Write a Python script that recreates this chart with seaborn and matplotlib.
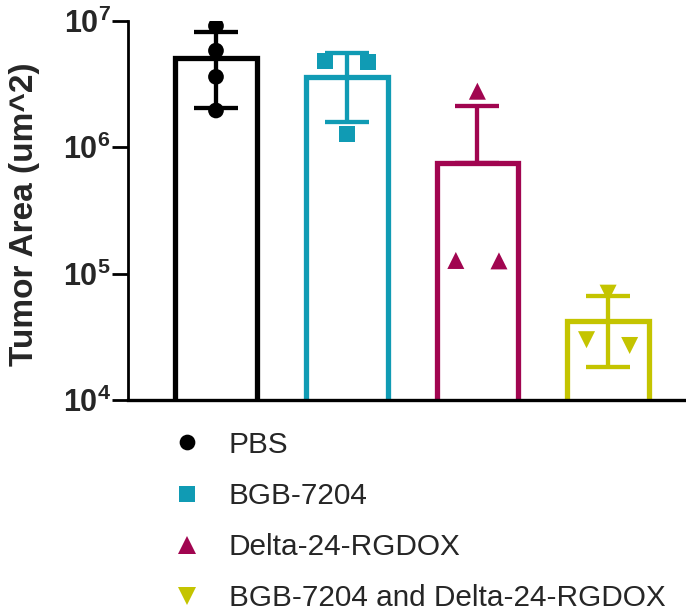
import numpy as np
import pandas as pd
import matplotlib
matplotlib.use("Agg")
import matplotlib.pyplot as plt
from matplotlib.lines import Line2D
import seaborn as sns

# ---- data -------------------------------------------------------------
groups = ["PBS", "BGB-7204", "Delta-24-RGDOX", "BGB-7204 and Delta-24-RGDOX"]
pbs = [9.1e6, 5.8e6, 3.6e6, 1.95e6]
bgb = [4.8e6, 4.7e6, 1.28e6]
rgdox = [2.77e6, 1.27e5, 1.26e5, 0.0]   # one animal without measurable tumor
combo = [7.0e4, 3.0e4, 2.7e4]
colors = ["#000000", "#109BB4", "#A10550", "#C4C400"]
markers = ["o", "s", "^", "v"]
marker_sizes = [128, 130, 150, 150]
ytick_values = [1e4, 1e5, 1e6, 1e7]
ytick_labels = [r"$\mathbf{10^{4}}$", r"$\mathbf{10^{5}}$",
                r"$\mathbf{10^{6}}$", r"$\mathbf{10^{7}}$"]
ylabel = "Tumor Area (um^2)"

# ---- style ------------------------------------------------------------
sns.set_style("ticks")
plt.rcParams["font.family"] = ["Liberation Sans", "DejaVu Sans"]
plt.rcParams["mathtext.fontset"] = "custom"
plt.rcParams["mathtext.rm"] = "Liberation Sans"
plt.rcParams["mathtext.bf"] = "Liberation Sans:bold"

series = [pbs, bgb, rgdox, combo]
long = pd.DataFrame({
    "group": np.repeat(groups, [len(s) for s in series]),
    "value": np.concatenate(series),
})
summary = long.groupby("group", sort=False)["value"].agg(["mean", "std"]).reset_index()

# horizontal spread for points with near-equal values (in log decades)
def spread(values, tol=0.12, step=0.33):
    vals = np.asarray(values, float)
    offs = np.zeros(len(vals))
    pos = vals > 0
    order = np.argsort(-vals)
    order = [i for i in order if pos[i]]
    clusters, cur = [], [order[0]]
    for i in order[1:]:
        if abs(np.log10(vals[cur[-1]]) - np.log10(vals[i])) < tol:
            cur.append(i)
        else:
            clusters.append(cur)
            cur = [i]
    clusters.append(cur)
    for c in clusters:
        n = len(c)
        for k, i in enumerate(c):
            offs[i] = (k - (n - 1) / 2) * step
    return offs

long["xpos"] = np.concatenate([gi + spread(s) for gi, s in enumerate(series)])
pts = long[long["value"] > 0]

# ---- figure -----------------------------------------------------------
fig = plt.figure(figsize=(6.86, 6.11), dpi=100)
ax = fig.add_axes([0.1866, 0.3453, 0.8134, 0.6208])

sns.barplot(data=summary, x="group", y="mean", hue="group", order=groups,
            palette=dict(zip(groups, colors)), fill=False, linewidth=3.8,
            width=0.625, legend=False, ax=ax, zorder=1)
ax.set_yscale("log")

means = summary["mean"].to_numpy()
sds = summary["std"].to_numpy()
lower = np.where(means - sds > 0, sds, 0.0)
for i in range(len(groups)):
    ax.errorbar(i, means[i], yerr=[[lower[i]], [sds[i]]], color=colors[i],
                lw=3.1, capsize=15.8, capthick=3.1, fmt="none", zorder=2)

sns.scatterplot(data=pts, x="xpos", y="value", hue="group", style="group",
                size="group", palette=dict(zip(groups, colors)),
                markers=dict(zip(groups, markers)),
                sizes=dict(zip(groups, marker_sizes)),
                linewidth=0, legend=False, ax=ax, zorder=3)

ax.set_ylim(1e4, 1e7)
ax.set_xlim(-0.673, 3.596)
ax.yaxis.set_minor_locator(matplotlib.ticker.NullLocator())
ax.set_yticks(ytick_values)
ax.set_yticklabels(ytick_labels, fontsize=22)
ax.tick_params(axis="y", length=11.5, width=2.0, pad=1, color="black")
ax.set_xticks([])
ax.set_xlabel("")
ax.set_ylabel(ylabel, fontsize=24, fontweight="bold")
ax.yaxis.set_label_coords(-0.157, 0.49)
for side in ["top", "right"]:
    ax.spines[side].set_visible(False)
ax.spines["left"].set_linewidth(2.0)
ax.spines["bottom"].set_linewidth(2.4)
ax.spines["left"].set_color("black")
ax.spines["bottom"].set_color("black")

handles = [Line2D([], [], linestyle="none", marker=m, color=c,
                  markersize=np.sqrt(s), markeredgewidth=0)
           for m, c, s in zip(markers, colors, marker_sizes)]
fig.legend(handles, groups, loc="upper left", bbox_to_anchor=(0.251, 0.295),
           frameon=False, fontsize=21.4, handlelength=1.0, handletextpad=0.9,
           labelspacing=0.78, borderpad=0, borderaxespad=0)

fig.savefig("out.png", dpi=100)
